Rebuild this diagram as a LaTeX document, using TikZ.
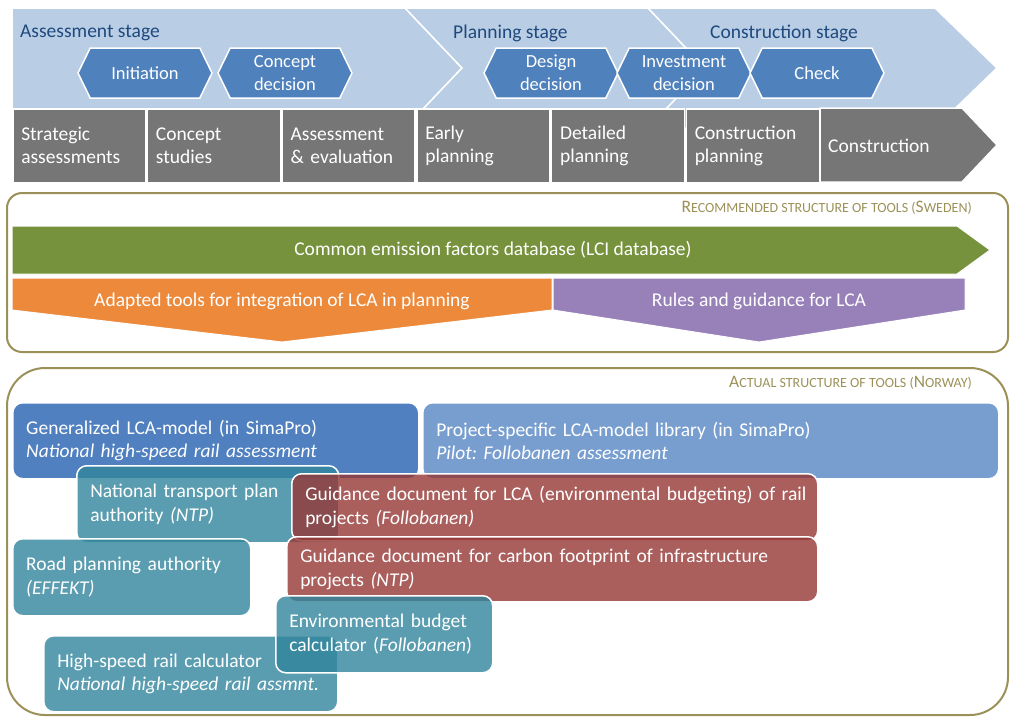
\documentclass[tikz,border=0pt]{standalone}
\usepackage{fontspec}
\setmainfont{Carlito}
\usetikzlibrary{shapes.symbols,positioning}

\definecolor{stagebg}{RGB}{185,205,229}
\definecolor{stagetxt}{RGB}{31,73,125}
\definecolor{decisionblue}{RGB}{79,129,189}
\definecolor{phasegray}{RGB}{118,118,118}
\definecolor{frameolive}{RGB}{155,145,88}
\definecolor{lcigreen}{RGB}{118,146,60}
\definecolor{adaptorange}{RGB}{237,137,58}
\definecolor{rulepurple}{RGB}{152,128,185}
\definecolor{genblue}{RGB}{80,128,192}
\definecolor{projblue}{RGB}{120,158,208}
\definecolor{toolteal}{RGB}{49,133,156}
\definecolor{docred}{RGB}{149,55,53}

\newcommand{\scbig}[1]{{\fontsize{17.5}{17.5}\selectfont #1}}
\frenchspacing

\begin{document}
\begin{tikzpicture}[x=1pt, y=-1pt,
    every node/.style={font=\fontsize{19.5}{23.5}\selectfont},
    stage/.style={fill=stagebg, draw=white, line width=1.5pt},
    stagelabel/.style={text=stagetxt, anchor=west, inner sep=0pt},
    decision/.style={shape=signal, signal to=west and east, signal pointer angle=128,
      fill=decisionblue, draw=white, line width=1.5pt, minimum width=134pt,
      minimum height=50pt, inner sep=0pt, text=white, align=center,
      font=\fontsize{18.5}{23}\selectfont},
    phasebox/.style={fill=phasegray, draw=white, line width=1.5pt, minimum height=74pt,
      text width=116pt, inner xsep=8.5pt, inner ysep=0pt, align=left, text=white,
      font=\fontsize{19.5}{23}\selectfont},
    frame/.style={draw=frameolive, line width=2pt},
    frametitle/.style={text=frameolive, anchor=east, inner sep=0pt, font=\fontsize{14}{14}\selectfont},
    band/.style={draw=white, line width=1pt},
    bandtext/.style={text=white, inner sep=0pt},
    toolbox/.style={draw=white, line width=1.5pt, rounded corners=10pt, anchor=north west,
      fill opacity=0.8, text opacity=1, text=white, align=left, inner xsep=13.5pt, inner ysep=0pt}]
  \useasboundingbox (0,0) rectangle (1010,716);

  % stages
  \draw[stage] (12,8) -- (405,8) -- (462,68) -- (405,128) -- (12,128) -- cycle;
  \draw[stage] (405,8) -- (648,8) -- (705,68) -- (648,128) -- (405,128) -- (462,68) -- cycle;
  \draw[stage] (648,8) -- (935,8) -- (997,68) -- (935,128) -- (648,128) -- (705,68) -- cycle;
  \node[stagelabel] (assess) at (20,33) {Assessment stage};
  \node[stagelabel] (plan) at (453,33) {Planning stage};
  \node[stagelabel] (build) at (710,33) {Construction stage};

  % decisions
  \node[decision] (init) at (145,73) {Initiation};
  \node[decision] (cdec) at (285,73) {Concept\\decision};
  \node[decision] (ddec) at (551,73) {Design\\decision};
  \node[decision] (idec) at (684,73) {Investment\\decision};
  \node[decision] (check) at (817,73) {Check};

  % phases
  \node[phasebox, anchor=north west] (strat) at (12,108) {Strategic\\assessments};
  \node[phasebox, right=0.2pt of strat] (cstud) {Concept\\studies};
  \node[phasebox, right=0.2pt of cstud] (eval) {Assessment\\\& evaluation};
  \node[phasebox, right=0.2pt of eval] (early) {Early\\planning};
  \node[phasebox, right=0.2pt of early] (detail) {Detailed\\planning};
  \node[phasebox, right=0.2pt of detail] (cplan) {Construction\\planning};
  \draw[fill=phasegray, draw=white, line width=1.5pt] (820,108) -- (962,108) -- (997,145) -- (962,182) -- (820,182) -- cycle;
  \node[bandtext, anchor=west] (constr) at (828,146) {Construction};

  % recommended structure
  \draw[frame, rounded corners=15pt] (7,193) rectangle (1008,352);
  \node[frametitle] (swe) at (972,208) {\scbig{R}ECOMMENDED STRUCTURE OF TOOLS (\scbig{S}WEDEN)};
  \draw[band, fill=lcigreen] (12,226) -- (957,226) -- (990,250) -- (957,274) -- (12,274) -- cycle;
  \draw[band, fill=adaptorange] (12,278) -- (552,278) -- (552,310) -- (282,342) -- (12,310) -- cycle;
  \draw[band, fill=rulepurple] (553,278) -- (965,278) -- (965,310) -- (759,342) -- (553,310) -- cycle;
  \node[bandtext] (lci) at (493,250) {Common emission factors database (LCI database)};
  \node[bandtext] (adapt) at (282,301) {Adapted tools for integration of LCA in planning};
  \node[bandtext] (rules) at (759,301) {Rules and guidance for LCA};

  % actual structure
  \draw[frame, rounded corners=38pt] (7,368) rectangle (1008,715);
  \node[frametitle] (nor) at (972,383) {\scbig{A}CTUAL STRUCTURE OF TOOLS (\scbig{N}ORWAY)};
  \node[toolbox, fill=genblue, fill opacity=1, minimum height=76pt, text width=379pt] (gen) at (12,402)
    {Generalized LCA-model (in SimaPro)\\\textit{National high-speed rail assessment}};
  \node[toolbox, fill=projblue, fill opacity=1, minimum height=76pt, text width=549pt] (proj) at (422,402)
    {Project-specific LCA-model library (in SimaPro)\\\textit{Pilot: Follobanen assessment}};
  \node[toolbox, fill=toolteal, minimum height=77pt, text width=235pt] (ntp) at (76,465)
    {National transport plan\\authority \textit{(NTP)}};
  \node[toolbox, fill=docred, minimum height=67pt, text width=499pt] (lcadoc) at (291,473)
    {\mbox{Guidance document for LCA (environmental budgeting) of rail}\\projects \textit{(Follobanen)}};
  \node[toolbox, fill=toolteal, minimum height=77pt, text width=211pt] (road) at (12,538)
    {Road planning authority\\\textit{(EFFEKT)}};
  \node[toolbox, fill=docred, minimum height=65pt, text width=504pt] (co2doc) at (286,536)
    {\mbox{Guidance document for carbon footprint of infrastructure}\\projects \textit{(NTP)}};
  \node[toolbox, fill=toolteal, minimum height=76pt, text width=267pt] (hsr) at (43,635)
    {High-speed rail calculator\\\mbox{\textit{National high-speed rail assmnt.}}};
  \node[toolbox, fill=toolteal, minimum height=77pt, text width=190pt] (envb) at (275,595)
    {Environmental budget\\calculator (\textit{Follobanen})};
  %\draw[help lines, step=50] (0,0) grid (1010,716);
\end{tikzpicture}
\end{document}
